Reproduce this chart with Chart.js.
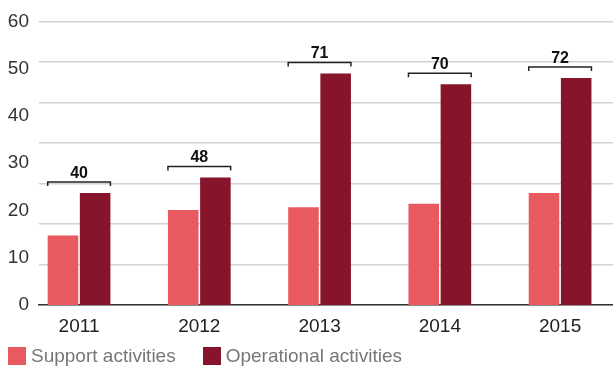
<!DOCTYPE html>
<html lang="en">
<head>
<meta charset="UTF-8">
<title>Activities</title>
<style>
  body { margin: 0; background: #fff; }
  #wrap { position: relative; width: 613px; height: 367px; }
  #legend {
    position: absolute; left: 8px; top: 345px;
    display: flex; align-items: center;
    font-family: "Liberation Sans", Arial, sans-serif; font-size: 19px; color: #777;
  }
  #legend .item { display: flex; align-items: center; margin-right: 27px; }
  #legend .box { width: 18px; height: 18px; margin-right: 5px; }
</style>
</head>
<body>
<div id="wrap">
  <canvas id="myChart" width="613" height="367"></canvas>
  <div id="legend"></div>
</div>

<script src="https://cdn.jsdelivr.net/npm/chart.js"></script>
<script>
// values per year
const years = ['2011', '2012', '2013', '2014', '2015'];
const support = [14.7, 20.1, 20.7, 21.4, 23.7];
const operational = [23.7, 27.0, 49.0, 46.7, 48.0];
const totals = [40, 48, 71, 70, 72];
const yTicks = [0, 10, 20, 30, 40, 50, 60];

const seriesNames = ['Support activities', 'Operational activities'];
const seriesColors = ['#e95960', '#86142a'];

const FONT = '"Liberation Sans", Arial, sans-serif';

// bracket + total above each pair of bars
const totalsPlugin = {
  id: 'totals',
  afterDatasetsDraw(chart) {
    const ctx = chart.ctx;
    const a = chart.getDatasetMeta(0).data;
    const b = chart.getDatasetMeta(1).data;
    ctx.save();
    for (let i = 0; i < years.length; i++) {
      const left = a[i].x - a[i].width / 2;
      const right = b[i].x + b[i].width / 2;
      const top = Math.min(a[i].y, b[i].y) - 11;
      ctx.strokeStyle = '#222';
      ctx.lineWidth = 1.5;
      ctx.beginPath();
      ctx.moveTo(left, top + 4);
      ctx.lineTo(left, top);
      ctx.lineTo(right, top);
      ctx.lineTo(right, top + 4);
      ctx.stroke();
      ctx.fillStyle = '#111';
      ctx.font = 'bold 16px ' + FONT;
      ctx.textAlign = 'center';
      ctx.textBaseline = 'alphabetic';
      ctx.fillText(totals[i], (left + right) / 2, top - 4);
    }
    ctx.restore();
  }
};

const toPoints = arr => arr.map((v, i) => ({ x: i, y: v }));

new Chart(document.getElementById('myChart'), {
  type: 'bar',
  data: {
    datasets: [
      { label: seriesNames[0], data: toPoints(support), backgroundColor: seriesColors[0] },
      { label: seriesNames[1], data: toPoints(operational), backgroundColor: seriesColors[1] }
    ]
  },
  options: {
    responsive: false,
    animation: false,
    layout: { padding: { top: 18, right: 0, left: 0, bottom: 0 } },
    datasets: { bar: { categoryPercentage: 0.535, barPercentage: 0.95 } },
    plugins: { legend: { display: false }, tooltip: { enabled: false } },
    scales: {
      x: {
        type: 'linear',
        min: -0.333, max: 4.44,
        offset: false,
        grid: { display: false, offset: false },
        border: { display: true, color: '#333', width: 1.5 },
        afterFit: s => { s.height = 62; },
        afterBuildTicks: s => { s.ticks = years.map((y, i) => ({ value: i })); },
        ticks: {
          padding: 2,
          maxRotation: 0,
          color: '#222',
          font: { family: FONT, size: 19 },
          callback: v => years[v]
        }
      },
      y: {
        min: 0, max: 60,
        position: 'left',
        grid: { display: false, drawTicks: false },
        border: { display: false },
        afterFit: s => { s.width = 39; },
        afterBuildTicks: s => { s.ticks = yTicks.map(v => ({ value: v })); },
        ticks: {
          padding: 10,
          color: '#333',
          font: { family: FONT, size: 19 }
        }
      },
      grid: {
        min: 0, max: 60,
        position: 'right',
        ticks: { display: false, count: 8 },
        grid: { color: '#d2d2d2', lineWidth: 1.5, drawTicks: false },
        border: { display: false },
        afterFit: s => { s.width = 0; }
      }
    }
  },
  plugins: [totalsPlugin]
});

// legend row
const legend = document.getElementById('legend');
seriesNames.forEach((name, i) => {
  const item = document.createElement('div');
  item.className = 'item';
  item.innerHTML = '<span class="box" style="background:' + seriesColors[i] + '"></span>' + name;
  legend.appendChild(item);
});
</script>
</body>
</html>
